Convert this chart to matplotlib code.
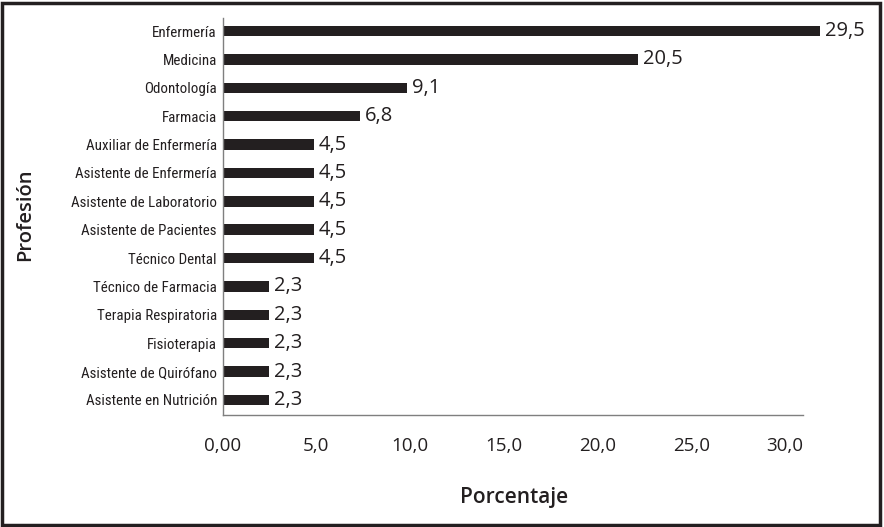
import os
import matplotlib
matplotlib.use('Agg')
import matplotlib.pyplot as plt
from matplotlib import font_manager
from matplotlib.textpath import TextPath
from matplotlib.patches import Rectangle

# Datos
profesiones = [
    'Enfermería', 'Medicina', 'Odontología', 'Farmacia',
    'Auxiliar de Enfermería', 'Asistente de Enfermería',
    'Asistente de Laboratorio', 'Asistente de Pacientes', 'Técnico Dental',
    'Técnico de Farmacia', 'Terapia Respiratoria', 'Fisioterapia',
    'Asistente de Quirófano', 'Asistente en Nutrición',
]
porcentajes = [29.5, 20.5, 9.1, 6.8, 4.5, 4.5, 4.5, 4.5, 4.5,
               2.3, 2.3, 2.3, 2.3, 2.3]
etiquetas = ['29,5', '20,5', '9,1', '6,8', '4,5', '4,5', '4,5', '4,5', '4,5',
             '2,3', '2,3', '2,3', '2,3', '2,3']
ticks = [0, 5, 10, 15, 20, 25, 30]
tick_labels = ['0,00', '5,0', '10,0', '15,0', '20,0', '25,0', '30,0']

# en el original el eje está algo comprimido respecto a las barras
escala_eje = 1.08

TXT = '#231f20'
BAR = '#231f20'


def pick_narrow_font():
    """Busca una fuente estrecha regular, en orden de preferencia."""
    bad = ('bold', 'oblique', 'italic', 'light', 'thin', 'medium', 'semi', 'extra', 'black')
    cands = []
    for f in font_manager.fontManager.ttflist:
        base = os.path.basename(f.fname).lower()
        if ('condensed' in base or 'narrow' in base) and not any(k in base for k in bad):
            cands.append(base if False else f.fname)
    cands = sorted(set(cands))
    prefs = ['robotocondensed', 'roboto_condensed', 'opensans_condensed', 'opensanscondensed',
             'opensans-condensed', 'liberationsansnarrow', 'dejavusanscondensed']
    for p in prefs:
        for c in cands:
            if os.path.basename(c).lower().replace(' ', '').startswith(p):
                return c
    return cands[0] if cands else None


narrow = pick_narrow_font()
if narrow:
    cat_font = font_manager.FontProperties(fname=narrow, size=10)
else:
    cat_font = font_manager.FontProperties(family='Roboto', size=10)
# ajustar el tamaño para que la etiqueta más larga mida ~145 px como en el original
ancho = TextPath((0, 0), 'Asistente de Laboratorio', prop=cat_font).get_extents().width
cat_font.set_size(10 * (145 * 0.72) / ancho)

fig = plt.figure(figsize=(8.84, 5.27), dpi=100)
ax = fig.add_axes([222.5 / 884, 1 - 415 / 527, (803 - 222.5) / 884, (415 - 18) / 527])

y = list(range(len(profesiones)))
ax.barh(y, porcentajes, height=0.37, color=BAR, clip_on=False)

for yi, v, lab in zip(y, porcentajes, etiquetas):
    ax.text(v + 0.25, yi, lab, va='center', ha='left', fontsize=14.5,
            color=TXT, family='Open Sans', clip_on=False)

ax.set_ylim(len(profesiones) - 0.47, -0.46)
ax.set_xlim(0, 580.5 / (18.75 * escala_eje))

ax.set_yticks(y)
ax.set_yticklabels(profesiones, color=TXT)
for lab in ax.get_yticklabels():
    lab.set_fontproperties(cat_font)
ax.set_xticks([t / escala_eje for t in ticks])
ax.set_xticklabels(tick_labels, fontsize=13.5, color=TXT, family='Open Sans')
ax.tick_params(axis='both', length=0)
ax.tick_params(axis='x', pad=16)
ax.tick_params(axis='y', pad=4)

for s in ['top', 'right']:
    ax.spines[s].set_visible(False)
for s in ['left', 'bottom']:
    ax.spines[s].set_color('#7f7f7f')
    ax.spines[s].set_linewidth(1.0)

fig.text(514 / 884, 1 - 497 / 527, 'Porcentaje', ha='center', va='center',
         fontsize=15, fontweight='semibold', color=TXT, family='Open Sans')
fig.text(25 / 884, 1 - 215 / 527, 'Profesión', ha='center', va='center', rotation=90,
         fontsize=14.5, fontweight='semibold', color=TXT, family='Open Sans')

# marco exterior
fig.patches.append(Rectangle((0.002, 0.003), 0.994, 0.992, transform=fig.transFigure,
                             fill=False, edgecolor=TXT, linewidth=2.5))

fig.savefig('out.png', dpi=100)
